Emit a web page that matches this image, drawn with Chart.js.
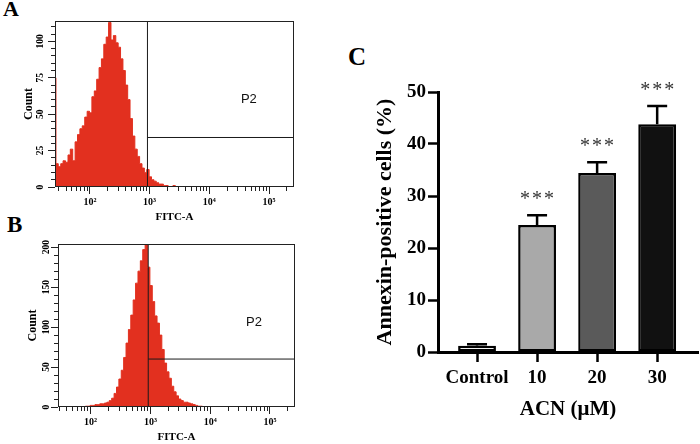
<!DOCTYPE html>
<html>
<head>
<meta charset="utf-8">
<script src="https://cdn.jsdelivr.net/npm/chart.js@4.4.0/dist/chart.umd.min.js"></script>
<style>
  html, body { margin: 0; padding: 0; background: #fff; }
  body { width: 700px; height: 444px; position: relative; overflow: hidden; font-family: 'Liberation Serif', serif; }
  .panel { position: absolute; }
  .tag { position: absolute; font-weight: bold; line-height: 1; color: #000; }
</style>
</head>
<body>
<div class="tag" style="left:3px; top:-2px; font-size:22px;">A</div>
<div class="tag" style="left:7px; top:213px; font-size:23px;">B</div>
<div class="tag" style="left:348px; top:44px; font-size:25px;">C</div>
<div class="panel" style="left:0; top:0; width:300px; height:225px;"><canvas id="histA"></canvas></div>
<div class="panel" style="left:0; top:222px; width:300px; height:222px;"><canvas id="histB"></canvas></div>
<div class="panel" style="left:340px; top:40px; width:360px; height:404px;"><canvas id="barC"></canvas></div>
<script>
// --- panel A: control histogram (FITC-A channel, count)
const histAFitc = [26, 28, 31, 34, 37, 41, 45, 49, 54, 59, 65, 71, 78, 86, 94, 103, 113, 124, 136, 149,
  163, 179, 196, 215, 236, 259, 284, 311, 341, 374, 410, 449, 492, 540, 592, 649, 711, 780, 855, 937,
  1027, 1126, 1234, 1353, 1483, 1626, 1782, 1953, 2141, 2347, 2573, 2820];
const histACount = [75, 16, 14, 16, 18, 17, 22, 26, 18, 31, 36, 40, 42, 48, 52, 51, 62, 66, 74, 82,
  88, 98, 103, 113, 101, 104, 99, 96, 88, 80, 70, 60, 47, 35, 26, 21, 16, 13, 10, 12,
  7, 5, 4, 3, 2, 2, 1, 1, 0, 0, 1, 0];

// --- panel B: treated histogram
const histBFitc = [78, 86, 94, 103, 113, 124, 136, 149, 163, 179, 196, 215, 236, 259, 284, 311, 341, 374, 410, 449,
  492, 540, 592, 649, 711, 780, 855, 937, 1027, 1126, 1234, 1353, 1483, 1626, 1782, 1953, 2141, 2347, 2573, 2820,
  3090, 3390, 3720, 4080, 4470, 4900, 5370, 5890, 6460, 7080, 7760];
const histBCount = [0, 1, 1, 2, 2, 3, 3, 4, 4, 5, 6, 8, 11, 17, 25, 35, 46, 62, 80, 97,
  115, 134, 155, 170, 183, 197, 203, 175, 152, 132, 114, 105, 90, 72, 55, 44, 36, 26, 19, 14,
  10, 8, 6, 6, 5, 4, 3, 2, 1, 1, 0];

// P2 gate (FITC-A threshold, count level of the marker) and label spot
const gateA = { x: 920, y: 34, labelX: 46000, labelY: 60 };
const gateB = { x: 920, y: 60, labelX: 54000, labelY: 106 };

// log axis ticks
const decadeTicks = [100, 1000, 10000, 100000];
const decadeLabels = ['10²', '10³', '10⁴', '10⁵'];
const minorTicks = [30, 40, 50, 60, 70, 80, 90, 200, 300, 400, 500, 600, 700, 800, 900,
  2000, 3000, 4000, 5000, 6000, 7000, 8000, 9000, 20000, 30000, 40000, 50000, 60000, 70000, 80000, 90000, 200000];
const countTicksA = [0, 5, 10, 15, 20, 25, 30, 35, 40, 45, 50, 55, 60, 65, 70, 75, 80, 85, 90, 95, 100, 105, 110];
const countLabelsA = [0, 25, 50, 75, 100];
const countTicksB = [0, 10, 20, 30, 40, 50, 60, 70, 80, 90, 100, 110, 120, 130, 140, 150, 160, 170, 180, 190, 200];
const countLabelsB = [0, 50, 100, 150, 200];

// --- panel C: bar chart
const groups = ['Control', '10', '20', '30'];
const annexin = [1.2, 24.4, 34.4, 43.8];
const annexinErr = [0.3, 1.9, 2.1, 3.5];
const marks = ['', '***', '***', '***'];

const SERIF = "'Liberation Serif', 'Times New Roman', serif";
const RED = '#e2301f';
const FITC_MAX = 262144;

Chart.defaults.font.family = SERIF;
Chart.defaults.color = '#000';

// box around the histogram + the "P2" text
const frameAndLabel = {
    id: 'frameAndLabel',
    afterDatasetsDraw(chart, args, opts) {
        const { ctx, chartArea: a, scales } = chart;
        ctx.save();
        ctx.strokeStyle = '#222';
        ctx.lineWidth = 1;
        ctx.strokeRect(Math.round(a.left) + 0.5, Math.round(a.top) + 0.5,
            Math.round(a.right - a.left) - 1, Math.round(a.bottom - a.top) - 1);
        ctx.fillStyle = '#111';
        ctx.font = '13px "Liberation Sans", Arial, sans-serif';
        ctx.textAlign = 'center';
        ctx.textBaseline = 'middle';
        ctx.fillText(opts.text, scales.x.getPixelForValue(opts.x), scales.y.getPixelForValue(opts.y));
        ctx.restore();
    }
};

function histogram(id, fitc, counts, cfg) {
    const points = fitc.map((x, i) => ({ x: x, y: counts[i] }));
    const allTicks = decadeTicks.concat(minorTicks).sort((a, b) => a - b);
    const gateLine = { borderColor: '#1a1a1a', borderWidth: 1, pointRadius: 0, fill: false };

    return new Chart(document.getElementById(id), {
        type: 'line',
        data: {
            datasets: [
                Object.assign({ data: [{ x: cfg.gate.x, y: 0 }, { x: cfg.gate.x, y: cfg.yMax }] }, gateLine),
                Object.assign({ data: [{ x: cfg.gate.x, y: cfg.gate.y }, { x: FITC_MAX, y: cfg.gate.y }] }, gateLine),
                {
                    data: points,
                    borderColor: RED,
                    backgroundColor: RED,
                    borderWidth: 1,
                    pointRadius: 0,
                    fill: 'origin',
                    stepped: 'middle'
                }
            ]
        },
        options: {
            responsive: true,
            maintainAspectRatio: false,
            animation: false,
            layout: { padding: cfg.pad },
            plugins: {
                legend: { display: false },
                tooltip: { enabled: false },
                frameAndLabel: { text: 'P2', x: cfg.gate.labelX, y: cfg.gate.labelY }
            },
            scales: {
                x: {
                    type: 'logarithmic',
                    min: cfg.xMin,
                    max: FITC_MAX,
                    afterBuildTicks: s => { s.ticks = allTicks.map(v => ({ value: v })); },
                    afterFit: s => { s.height = cfg.xAxisH; },
                    ticks: {
                        autoSkip: false,
                        maxRotation: 0,
                        padding: 2.2,
                        font: { size: 10, weight: 'bold' },
                        callback: v => {
                            const i = decadeTicks.indexOf(v);
                            return i >= 0 ? decadeLabels[i] : '';
                        }
                    },
                    grid: {
                        drawOnChartArea: false,
                        tickLength: 7,
                        tickWidth: 1,
                        tickColor: '#222',
                        tickBorderDash: c => decadeTicks.includes(c.tick.value) ? [] : [4, 100]
                    },
                    border: { display: false },
                    title: {
                        display: true,
                        text: 'FITC-A',
                        font: { size: 11, weight: 'bold' },
                        padding: { top: 0, bottom: cfg.xTitlePad }
                    }
                },
                y: {
                    min: 0,
                    max: cfg.yMax,
                    afterBuildTicks: s => { s.ticks = cfg.yTicks.map(v => ({ value: v })); },
                    afterFit: s => { s.width = cfg.yAxisW; },
                    ticks: {
                        autoSkip: false,
                        minRotation: 90,
                        maxRotation: 90,
                        crossAlign: 'center',
                        padding: cfg.yTickPad,
                        font: { size: 9.5, weight: 'bold' },
                        callback: v => cfg.yLabels.includes(v) ? String(v) : ''
                    },
                    grid: {
                        drawOnChartArea: false,
                        tickLength: 7,
                        tickWidth: 1,
                        tickColor: '#222',
                        tickBorderDash: c => cfg.yLabels.includes(c.tick.value) ? [] : [0, 3, 4, 100]
                    },
                    border: { display: false },
                    title: {
                        display: true,
                        text: 'Count',
                        font: { size: 12, weight: 'bold' },
                        padding: { top: cfg.yTitlePad, bottom: 0 }
                    }
                }
            }
        },
        plugins: [frameAndLabel]
    });
}

histogram('histA', histAFitc, histACount, {
    gate: gateA, xMin: 26, yMax: 114,
    yTicks: countTicksA, yLabels: countLabelsA,
    pad: { top: 21, right: 6, left: 0, bottom: 0 },
    xAxisH: 38, yAxisW: 55, xTitlePad: 1.4, yTitlePad: 21.8, yTickPad: 0
});

histogram('histB', histBFitc, histBCount, {
    gate: gateB, xMin: 28.5, yMax: 204,
    yTicks: countTicksB, yLabels: countLabelsB,
    pad: { top: 22, right: 5, left: 0, bottom: 0 },
    xAxisH: 37, yAxisW: 58, xTitlePad: 0, yTitlePad: 25.8, yTickPad: -3
});

// error bars and significance stars on top of the bars
const errorBars = {
    id: 'errorBars',
    afterDatasetsDraw(chart) {
        const { ctx, scales: { y } } = chart;
        const bars = chart.getDatasetMeta(0).data;
        ctx.save();
        ctx.strokeStyle = '#000';
        ctx.lineWidth = 2.5;
        bars.forEach((bar, i) => {
            const top = y.getPixelForValue(annexin[i] + annexinErr[i]);
            const base = y.getPixelForValue(annexin[i]);
            ctx.beginPath();
            ctx.moveTo(bar.x, base);
            ctx.lineTo(bar.x, top);
            ctx.moveTo(bar.x - 10, top);
            ctx.lineTo(bar.x + 10, top);
            ctx.stroke();
            if (marks[i]) {
                ctx.fillStyle = '#333';
                ctx.font = '20px ' + SERIF;
                ctx.letterSpacing = '2px';
                ctx.textAlign = 'center';
                ctx.textBaseline = 'alphabetic';
                ctx.fillText(marks[i], bar.x + 1, top - 10);
            }
        });
        ctx.restore();
    }
};

new Chart(document.getElementById('barC'), {
    type: 'bar',
    data: {
        datasets: [{
            data: groups.map((g, i) => ({ x: i, y: annexin[i] })),
            backgroundColor: ['#ffffff', '#a9a9a9', '#5a5a5a', '#111111'],
            borderColor: '#000',
            borderWidth: 2.5,
            borderSkipped: false,
            barPercentage: 0.63,
            categoryPercentage: 1
        }]
    },
    options: {
        responsive: true,
        maintainAspectRatio: false,
        animation: false,
        layout: { padding: { top: 52, right: 2, left: 0, bottom: 0 } },
        plugins: { legend: { display: false }, tooltip: { enabled: false } },
        scales: {
            x: {
                type: 'linear',
                offset: false,
                min: -0.65,
                max: 3.68,
                afterBuildTicks: s => { s.ticks = groups.map((g, i) => ({ value: i })); },
                afterFit: s => { s.height = 92; },
                ticks: {
                    autoSkip: false,
                    maxRotation: 0,
                    padding: 4.6,
                    font: { size: 19, weight: 'bold' },
                    callback: v => groups[v]
                },
                grid: { offset: false, drawOnChartArea: false, tickLength: 10, tickWidth: 2.5, tickColor: '#000' },
                border: { color: '#000', width: 3 },
                title: {
                    display: true,
                    text: 'ACN (μM)',
                    font: { size: 21, weight: 'bold' },
                    padding: { top: 0, bottom: 21.4 }
                }
            },
            y: {
                min: 0,
                max: 50,
                afterFit: s => { s.width = 98; },
                ticks: {
                    stepSize: 10,
                    padding: 2,
                    font: { size: 19, weight: 'bold' }
                },
                grid: { drawOnChartArea: false, tickLength: 10, tickWidth: 2.5, tickColor: '#000' },
                border: { color: '#000', width: 3 },
                title: {
                    display: true,
                    text: 'Annexin-positive cells (%)',
                    font: { size: 22, weight: 'bold' },
                    padding: { top: 31.8, bottom: 0 }
                }
            }
        }
    },
    plugins: [errorBars]
});
</script>
</body>
</html>
